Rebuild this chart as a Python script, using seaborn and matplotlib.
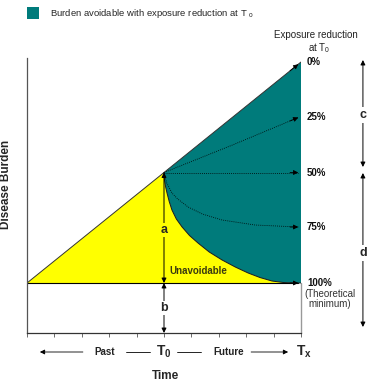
import numpy as np
import matplotlib
matplotlib.use("Agg")
import matplotlib.pyplot as plt
from matplotlib.patches import Patch
import seaborn as sns

sns.set_style("white")
plt.rcParams['font.family'] = ['Liberation Sans', 'DejaVu Sans']
plt.rcParams['mathtext.fontset'] = 'custom'
plt.rcParams['mathtext.rm'] = 'Liberation Sans'
plt.rcParams['mathtext.it'] = 'Liberation Sans'
plt.rcParams['mathtext.bf'] = 'Liberation Sans:bold'

# ---- data (time units 0..10, burden units) ----
time_ticks = [0, 1, 2, 3, 4, 5, 6, 7, 8, 9, 10]
t0 = 5
tx = 10
baseline = 1.0          # theoretical minimum burden (b)

# burden trend with no exposure reduction (0 %)
diag_x = [0, 5, 10]
diag_y = [1.0, 3.21, 5.42]

# 100 % reduction at T0 (boundary teal / yellow)
curve100_x = [5.0, 5.02, 5.06, 5.11, 5.19, 5.29, 5.45, 5.66, 5.93, 6.24, 6.65,
              7.12, 7.6, 8.07, 8.5, 8.94, 9.35, 9.78, 10.0]
curve100_y = [3.21, 3.05, 2.92, 2.80, 2.63, 2.46, 2.28, 2.12, 1.95, 1.80, 1.62,
              1.46, 1.32, 1.20, 1.11, 1.04, 1.01, 1.00, 1.00]

# intermediate reductions (dotted)
curve75_x = [5.0, 5.1, 5.29, 5.5, 5.88, 6.4, 7.12, 8.32, 9.9]
curve75_y = [3.21, 3.00, 2.80, 2.68, 2.52, 2.38, 2.26, 2.16, 2.12]
curve50_x = [5.0, 9.9]
curve50_y = [3.21, 3.21]
curve25_x = [5.0, 7.5, 9.9]
curve25_y = [3.21, 3.76, 4.31]

pct_labels = ['0%', '25%', '50%', '75%', '100%']
pct_y = [5.42, 4.31, 3.21, 2.12, 1.0]

teal = '#007B7B'
yellow = '#FFFF00'

fig = plt.figure(figsize=(3.69, 3.92), dpi=100)
ax = fig.add_axes([27 / 369, 59 / 392, 274 / 369, 275 / 392])
ax.set_xlim(0, 10)
ax.set_ylim(0, 5.5)

# fills
yel_x = diag_x[:2] + curve100_x[1:] + [0]
yel_y = diag_y[:2] + curve100_y[1:] + [baseline]
ax.fill(yel_x, yel_y, color=yellow, lw=0, zorder=1)
teal_x = curve100_x + [diag_x[2]]
teal_y = curve100_y + [diag_y[2]]
ax.fill(teal_x, teal_y, color=teal, lw=0, zorder=1)

# solid outlines
sns.lineplot(x=diag_x, y=diag_y, ax=ax, color='#333333', lw=0.7, sort=False,
             estimator=None, zorder=2)
sns.lineplot(x=curve100_x, y=curve100_y, ax=ax, color='#1a1a1a', lw=0.7,
             sort=False, estimator=None, zorder=2)
ax.plot([0, 9.9], [baseline, baseline], color='black', lw=0.8, zorder=2)
ax.plot([10, 10], [0, baseline], color='#999999', lw=1.0, zorder=2, clip_on=False)

# dotted reduction curves
for cx, cy in [(curve25_x, curve25_y), (curve50_x, curve50_y), (curve75_x, curve75_y)]:
    sns.lineplot(x=cx, y=cy, ax=ax, color='black', lw=0.6, linestyle=(0, (1, 1.5)),
                 sort=False, estimator=None, zorder=3)

head = dict(arrowstyle='-|>', color='black', lw=0.6, mutation_scale=7,
            shrinkA=0, shrinkB=0)
# arrow heads at the end of each scenario line
ends = [(9.6, 1 + 0.442 * 9.6, 9.9, 1 + 0.442 * 9.9),
        (9.6, 4.31 - 0.069, 9.9, curve25_y[-1]),
        (9.6, 3.21, 9.9, 3.21),
        (9.6, 2.12, 9.9, 2.12),
        (9.6, 1.0, 9.9, 1.0)]
for x0, y0, x1, y1 in ends:
    ax.annotate('', xy=(x1, y1), xytext=(x0, y0), arrowprops=head, zorder=4)

for lab, yv in zip(pct_labels, pct_y):
    ax.text(10.22, yv, lab, fontsize=7, fontweight='bold', ha='left', va='center',
            color='#111111')
ax.text(11.05, 0.68, '(Theoretical\nminimum)', fontsize=7, ha='center', va='center',
        color='#333333', linespacing=1.1)
ax.text(10.55, 5.96, 'Exposure reduction', fontsize=7, ha='center', va='center',
        color='#222222', clip_on=False)
ax.text(10.65, 5.7, 'at T$_{0}$', fontsize=7, ha='center', va='center',
        color='#222222', clip_on=False)

# a / b double arrows
dbl = dict(arrowstyle='<|-|>', color='black', lw=0.7, mutation_scale=7,
           shrinkA=0, shrinkB=0)
ax.annotate('', xy=(t0, diag_y[1]), xytext=(t0, baseline), arrowprops=dbl, zorder=4)
ax.annotate('', xy=(t0, baseline), xytext=(t0, 0), arrowprops=dbl, zorder=4)
ax.text(t0, 2.06, 'a', fontsize=9, fontweight='bold', ha='center', va='center',
        zorder=5, bbox=dict(facecolor=yellow, edgecolor='none', pad=1))
ax.text(t0, 0.5, 'b', fontsize=9, fontweight='bold', ha='center', va='center',
        zorder=5, bbox=dict(facecolor='white', edgecolor='none', pad=1))
ax.text(6.25, 1.25, 'Unavoidable', fontsize=7, fontweight='bold', ha='center',
        va='center', color='#3a3a10', zorder=5)

# c / d double arrows outside the axes
ax.annotate('', xy=(12.26, 5.46), xytext=(12.26, 3.32), arrowprops=dbl,
            annotation_clip=False)
ax.annotate('', xy=(12.26, 3.2), xytext=(12.26, 0.12), arrowprops=dbl,
            annotation_clip=False)
ax.text(12.26, 4.36, 'c', fontsize=9, fontweight='bold', ha='center', va='center',
        clip_on=False, bbox=dict(facecolor='white', edgecolor='none', pad=1.5))
ax.text(12.26, 1.6, 'd', fontsize=9, fontweight='bold', ha='center', va='center',
        clip_on=False, bbox=dict(facecolor='white', edgecolor='none', pad=1.5))

# axes styling
sns.despine(ax=ax, top=True, right=True)
ax.spines['left'].set_color('#555555')
ax.spines['left'].set_linewidth(0.9)
ax.spines['bottom'].set_color('#333333')
ax.spines['bottom'].set_linewidth(0.9)
ax.set_xticks(time_ticks)
ax.set_xticklabels([])
ax.set_yticks([])
ax.tick_params(axis='x', direction='out', length=3, width=0.6, color='#555555',
               bottom=True)

# time axis annotation row
ty = -0.38
thin = dict(arrowstyle='-|>', color='black', lw=0.6, mutation_scale=7,
            shrinkA=0, shrinkB=0)
ax.annotate('', xy=(0.47, ty), xytext=(2.04, ty), arrowprops=thin, annotation_clip=False)
ax.annotate('', xy=(9.53, ty), xytext=(8.18, ty), arrowprops=thin, annotation_clip=False)
ax.plot([3.62, 4.49], [ty, ty], color='black', lw=0.6, clip_on=False)
ax.plot([5.47, 6.35], [ty, ty], color='black', lw=0.6, clip_on=False)
ax.text(2.85, ty, 'Past', fontsize=7, fontweight='bold', ha='center', va='center',
        color='#222222')
ax.text(7.37, ty, 'Future', fontsize=7, fontweight='bold', ha='center', va='center',
        color='#222222')
ax.text(t0, ty, r'$\mathbf{T}_{\mathbf{0}}$', fontsize=10, ha='center', va='center')
ax.text(10.1, ty, r'$\mathbf{T}_{\mathbf{x}}$', fontsize=10, ha='center', va='center')
ax.text(5.04, -0.86, 'Time', fontsize=8.5, fontweight='bold', ha='center', va='center')

fig.text(6 / 369, 1 - 184 / 392, 'Disease Burden', rotation=90, fontsize=8.5,
         fontweight='bold', ha='center', va='center')

fig.legend(handles=[Patch(facecolor=teal, edgecolor='none')],
           labels=['Burden avoidable with exposure reduction at T $_{\\mathrm{o}}$'],
           loc='upper left', bbox_to_anchor=(27 / 369, 1 - 7 / 392), frameon=False,
           fontsize=6.8, handlelength=1.3, handleheight=1.5, handletextpad=1.1,
           borderpad=0, borderaxespad=0)

fig.savefig('out.png', dpi=100)
